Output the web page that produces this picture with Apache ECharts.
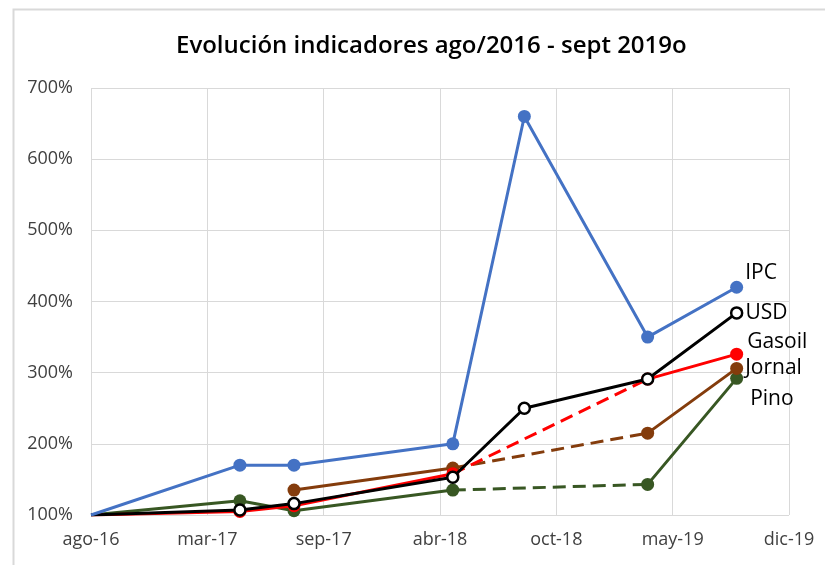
<!DOCTYPE html>
<html>
<head>
<meta charset="utf-8">
<script src="https://cdn.jsdelivr.net/npm/echarts@6/dist/echarts.min.js"></script>
<style>
html,body{margin:0;padding:0;background:#fff;}
#chart{width:825px;height:565px;}
</style>
</head>
<body>
<div id="chart"></div>
<script>
// Días desde ago-16 de cada medición
const xDays = [0, 256, 349, 622, 745, 957, 1110];
// Etiquetas del eje X (una por marca, cada 200 días)
const xTickLabels = ['ago-16', 'mar-17', 'sep-17', 'abr-18', 'oct-18', 'may-19', 'dic-19'];
// Series (en %)
const seriesNames = ['IPC', 'USD', 'Gasoil', 'Jornal', 'Pino'];
const ipc    = [100, 170, 170, 200, 660, 350, 420];
const usd    = [100, 107, 116, 153, 250, 291, 384];
const gasoil = [100, 105, 113, 158, null, 291, 326];
const jornal = [null, null, 135, 166, null, 215, 306];
const pino   = [100, 120, 106, 135, null, 143, 292];

const styles = {
  IPC:    {color: '#4472C4', label: [0, -14]},
  USD:    {color: '#000000', label: [0, 0], hollow: true},
  Gasoil: {color: '#FF0000', label: [2, -12]},
  Jornal: {color: '#843C0C', label: [0, 0]},
  Pino:   {color: '#385723', label: [5, 21]}
};
const valuesByName = {IPC: ipc, USD: usd, Gasoil: gasoil, Jornal: jornal, Pino: pino};

function buildSeries(name, z) {
  const vals = valuesByName[name];
  const st = styles[name];
  const lastIdx = vals.length - 1;
  const data = vals.map((v, i) => {
    if (v === null) return [xDays[i], '-'];
    if (i === lastIdx) {
      return {
        value: [xDays[i], v],
        label: {
          show: true, position: 'right', formatter: name,
          offset: st.label, color: '#000', fontSize: 21,
          fontFamily: 'Open Sans', distance: 2
        }
      };
    }
    if (i === 0) return {value: [xDays[i], v], symbol: 'none'};
    return [xDays[i], v];
  });
  const out = [{
    name: name, type: 'line', z: z, data: data,
    connectNulls: false,
    symbol: 'circle', symbolSize: st.hollow ? 11 : 13,
    showAllSymbol: true,
    lineStyle: {color: st.color, width: 3},
    itemStyle: st.hollow
      ? {color: '#ffffff', borderColor: '#000000', borderWidth: 2.5}
      : {color: st.color, borderWidth: 0},
    emphasis: {disabled: true},
    animation: false
  }];
  // tramos estimados (punteados) sobre valores faltantes
  for (let i = 1; i < lastIdx; i++) {
    if (vals[i] === null) {
      let a = i - 1; while (a >= 0 && vals[a] === null) a--;
      let b = i + 1; while (b <= lastIdx && vals[b] === null) b++;
      if (a >= 0 && b <= lastIdx) {
        out.push({
          name: name + ' (est.)', type: 'line', z: z - 1,
          data: [[xDays[a], vals[a]], [xDays[b], vals[b]]],
          symbol: 'none',
          lineStyle: {color: st.color, width: 3, type: [13, 7]},
          emphasis: {disabled: true},
          animation: false
        });
      }
    }
  }
  return out;
}

const series = [].concat(
  buildSeries('Pino', 2),
  buildSeries('Jornal', 3),
  buildSeries('Gasoil', 4),
  buildSeries('USD', 5),
  buildSeries('IPC', 6)
);

const chart = echarts.init(document.getElementById('chart'), null, {renderer: 'canvas'});
chart.setOption({
  animation: false,
  backgroundColor: '#ffffff',
  title: {
    text: 'Evolución indicadores ago/2016 - sept 2019o',
    left: 171, top: 29,
    textStyle: {fontFamily: 'Open Sans', fontWeight: 600, fontSize: 24, color: '#000'}
  },
  graphic: [{
    type: 'rect', left: 11, top: 7, z: -10,
    shape: {width: 840, height: 580},
    style: {fill: 'none', stroke: '#d9d9d9', lineWidth: 2}
  }],
  grid: {left: 91, top: 88, right: 36, bottom: 50, containLabel: false},
  xAxis: {
    type: 'value', min: 0, max: 1200, interval: 200,
    axisLine: {show: false}, axisTick: {show: false},
    splitLine: {show: true, lineStyle: {color: '#d9d9d9', width: 1}},
    axisLabel: {
      color: '#404040', fontFamily: 'Open Sans', fontSize: 18, margin: 16,
      formatter: v => xTickLabels[Math.round(v / 200)] || ''
    }
  },
  yAxis: {
    type: 'value', min: 100, max: 700, interval: 100,
    axisLine: {show: false}, axisTick: {show: false},
    splitLine: {show: true, lineStyle: {color: '#d9d9d9', width: 1}},
    axisLabel: {
      color: '#404040', fontFamily: 'Open Sans', fontSize: 18, margin: 18,
      formatter: '{value}%'
    }
  },
  series: series
});
</script>
</body>
</html>
